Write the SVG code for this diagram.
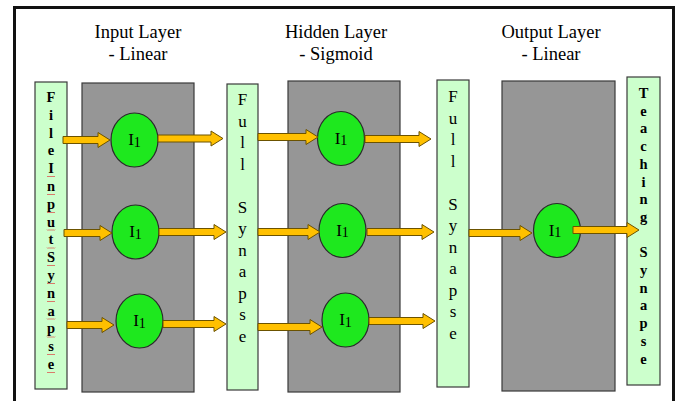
<svg xmlns="http://www.w3.org/2000/svg" xmlns:xlink="http://www.w3.org/1999/xlink" width="680" height="401" viewBox="0 0 680 401">
<defs>
<style>
.title{font-family:"Liberation Serif","Times New Roman",serif;font-size:18.5px;fill:#000;text-anchor:middle}
.layer{fill:#969696;stroke:#3a3a3a;stroke-width:1.2}
.syn{fill:#ccffcc;stroke:#3a3a3a;stroke-width:1.2}
.neuron{fill:#1ee81e;stroke:#2a2a2a;stroke-width:1.2}
.nlab{font-family:"Liberation Serif","Times New Roman",serif;font-size:17px;fill:#000;text-anchor:middle}
.vb{font-family:"Liberation Serif","Times New Roman",serif;font-size:14.5px;font-weight:bold;fill:#000;text-anchor:middle}
.vr{font-family:"Liberation Serif","Times New Roman",serif;font-size:17px;fill:#000;text-anchor:middle}
.arrow{fill:#ffc000;stroke:#6b5200;stroke-width:1;stroke-linejoin:miter}
.sq{fill:none;stroke:#e04040;stroke-width:0.7}
</style>
<path id="squig" class="sq" d="M-4,0 l1,1 l1,-1 l1,1 l1,-1 l1,1 l1,-1 l1,1 l1,-1"/>
</defs>
<rect x="14.5" y="7.5" width="659" height="400" fill="#fff" stroke="#111" stroke-width="3"/>

<g id="titles">
<text class="title" x="138" y="38">Input Layer</text>
<text class="title" x="138" y="60">- Linear</text>
<text class="title" x="336" y="38">Hidden Layer</text>
<text class="title" x="336" y="60">- Sigmoid</text>
<text class="title" x="551" y="38">Output Layer</text>
<text class="title" x="551" y="60">- Linear</text>
</g>

<g id="file-input-synapse">
<rect class="syn" x="35" y="82" width="32" height="307"/>
<text class="vb"><tspan x="51" y="102">F</tspan><tspan x="51" y="119.8">i</tspan><tspan x="51" y="137.6">l</tspan><tspan x="51" y="155.4">e</tspan><tspan x="51" y="173.2">I</tspan><tspan x="51" y="191">n</tspan><tspan x="51" y="208.8">p</tspan><tspan x="51" y="226.6">u</tspan><tspan x="51" y="244.4">t</tspan><tspan x="51" y="262.2">S</tspan><tspan x="51" y="280">y</tspan><tspan x="51" y="297.8">n</tspan><tspan x="51" y="315.6">a</tspan><tspan x="51" y="333.4">p</tspan><tspan x="51" y="351.2">s</tspan><tspan x="51" y="369">e</tspan></text>
<use xlink:href="#squig" x="51" y="176"/><use xlink:href="#squig" x="51" y="194"/><use xlink:href="#squig" x="51" y="212"/><use xlink:href="#squig" x="51" y="229.5"/><use xlink:href="#squig" x="51" y="247.5"/><use xlink:href="#squig" x="51" y="265"/><use xlink:href="#squig" x="51" y="283"/><use xlink:href="#squig" x="51" y="301"/><use xlink:href="#squig" x="51" y="318.5"/><use xlink:href="#squig" x="51" y="336.5"/><use xlink:href="#squig" x="51" y="354"/><use xlink:href="#squig" x="51" y="372"/>
</g>

<g id="input-layer">
<rect class="layer" x="82" y="83" width="112" height="309"/>
</g>
<g id="input-n1"><ellipse class="neuron" cx="134.5" cy="140" rx="23.5" ry="27"/><text class="nlab" x="134.5" y="145">I<tspan font-size="14" dy="1.5">1</tspan></text></g>
<g id="input-n2"><ellipse class="neuron" cx="135.5" cy="232" rx="23.5" ry="27"/><text class="nlab" x="135.5" y="237">I<tspan font-size="14" dy="1.5">1</tspan></text></g>
<g id="input-n3"><ellipse class="neuron" cx="139.5" cy="321" rx="23.5" ry="27"/><text class="nlab" x="139.5" y="326">I<tspan font-size="14" dy="1.5">1</tspan></text></g>

<g id="full-synapse-1">
<rect class="syn" x="227" y="84" width="31" height="306"/>
<text class="vr"><tspan x="242.5" y="105">F</tspan><tspan x="242.5" y="126.5">u</tspan><tspan x="242.5" y="148">l</tspan><tspan x="242.5" y="169.5">l</tspan><tspan x="242.5" y="212.5">S</tspan><tspan x="242.5" y="234">y</tspan><tspan x="242.5" y="255.5">n</tspan><tspan x="242.5" y="277">a</tspan><tspan x="242.5" y="298.5">p</tspan><tspan x="242.5" y="320">s</tspan><tspan x="242.5" y="341.5">e</tspan></text>
</g>

<g id="hidden-layer">
<rect class="layer" x="288" y="81" width="112" height="311"/>
</g>
<g id="hidden-n1"><ellipse class="neuron" cx="341" cy="138.5" rx="23.5" ry="27"/><text class="nlab" x="341" y="143.5">I<tspan font-size="14" dy="1.5">1</tspan></text></g>
<g id="hidden-n2"><ellipse class="neuron" cx="342.5" cy="230.5" rx="23.5" ry="27"/><text class="nlab" x="342.5" y="235.5">I<tspan font-size="14" dy="1.5">1</tspan></text></g>
<g id="hidden-n3"><ellipse class="neuron" cx="345.5" cy="320" rx="23.5" ry="27"/><text class="nlab" x="345.5" y="325">I<tspan font-size="14" dy="1.5">1</tspan></text></g>

<g id="full-synapse-2">
<rect class="syn" x="437" y="80" width="32" height="307"/>
<text class="vr"><tspan x="453" y="102">F</tspan><tspan x="453" y="123.5">u</tspan><tspan x="453" y="145">l</tspan><tspan x="453" y="166.5">l</tspan><tspan x="453" y="209.5">S</tspan><tspan x="453" y="231">y</tspan><tspan x="453" y="252.5">n</tspan><tspan x="453" y="274">a</tspan><tspan x="453" y="295.5">p</tspan><tspan x="453" y="317">s</tspan><tspan x="453" y="338.5">e</tspan></text>
</g>

<g id="output-layer">
<rect class="layer" x="502" y="81" width="113" height="310"/>
</g>
<g id="output-n1"><ellipse class="neuron" cx="557" cy="230.5" rx="23.5" ry="27"/><text class="nlab" x="555" y="235.5">I<tspan font-size="14" dy="1.5">1</tspan></text></g>

<g id="teaching-synapse">
<rect class="syn" x="627" y="77" width="33" height="308"/>
<text class="vb"><tspan x="643.5" y="98">T</tspan><tspan x="643.5" y="115.7">e</tspan><tspan x="643.5" y="133.4">a</tspan><tspan x="643.5" y="151.1">c</tspan><tspan x="643.5" y="168.8">h</tspan><tspan x="643.5" y="186.5">i</tspan><tspan x="643.5" y="204.2">n</tspan><tspan x="643.5" y="221.9">g</tspan><tspan x="643.5" y="257.3">S</tspan><tspan x="643.5" y="275">y</tspan><tspan x="643.5" y="292.7">n</tspan><tspan x="643.5" y="310.4">a</tspan><tspan x="643.5" y="328.1">p</tspan><tspan x="643.5" y="345.8">s</tspan><tspan x="643.5" y="363.5">e</tspan></text>
</g>

<g id="connectors">
<polygon class="arrow" points="63,136.5 98,136.5 98,132.5 110,140 98,147.5 98,143.5 63,143.5"/>
<polygon class="arrow" points="64,229.5 100,229.5 100,225.5 112,233 100,240.5 100,236.5 64,236.5"/>
<polygon class="arrow" points="67,321.5 102,321.5 102,317.5 114,325 102,332.5 102,328.5 67,328.5"/>
<polygon class="arrow" points="158,135 211,135 211,131 223,138.5 211,146 211,142 158,142"/>
<polygon class="arrow" points="159,228.5 214,228.5 214,224.5 226,232 214,239.5 214,235.5 159,235.5"/>
<polygon class="arrow" points="163,320.5 214,320.5 214,316.5 226,324 214,331.5 214,327.5 163,327.5"/>
<polygon class="arrow" points="258,133.5 306,133.5 306,129.5 318,137 306,144.5 306,140.5 258,140.5"/>
<polygon class="arrow" points="258,228.5 308,228.5 308,224.5 320,232 308,239.5 308,235.5 258,235.5"/>
<polygon class="arrow" points="258,323.5 310,323.5 310,319.5 322,327 310,334.5 310,330.5 258,330.5"/>
<polygon class="arrow" points="365,135.5 419,135.5 419,131.5 431,139 419,146.5 419,142.5 365,142.5"/>
<polygon class="arrow" points="367,228.5 422,228.5 422,224.5 434,232 422,239.5 422,235.5 367,235.5"/>
<polygon class="arrow" points="369,317.5 423,317.5 423,313.5 435,321 423,328.5 423,324.5 369,324.5"/>
<polygon class="arrow" points="469,229.5 520,229.5 520,225.5 532,233 520,240.5 520,236.5 469,236.5"/>
<polygon class="arrow" points="573,226.5 627,226.5 627,222.5 639,230 627,237.5 627,233.5 573,233.5"/>
</g>
</svg>
